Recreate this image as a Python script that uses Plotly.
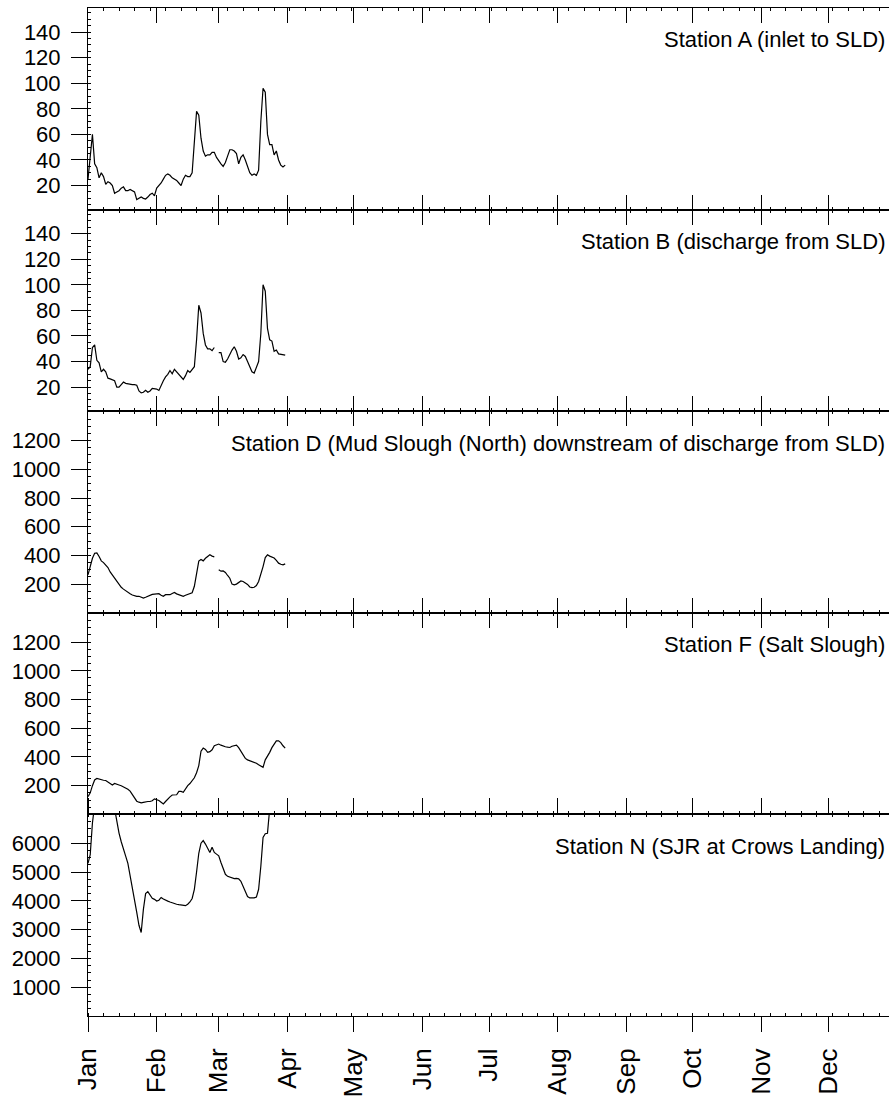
import pandas as pd
import plotly.graph_objects as go
from plotly.subplots import make_subplots

# Daily sampling dates, Jan 1 - Mar 31
dates = pd.date_range("2001-01-01", periods=90, freq="D")

station_a = [25, 45, 60, 37, 34, 26, 30, 27, 21, 23, 22, 20, 14, 15, 16, 18, 19, 16, 16, 17,
             16, 15, 9, 10, 11, 10, 9.5, 11, 13, 14, 12, 18, 20, 22, 25, 28, 29, 28, 26, 25,
             24, 22, 20, 25, 28, 27, 27, 30, 55, 78, 75, 57, 47, 43, 44, 44, 46, 46, 42, 39,
             37, 35, 38, 43, 48, 48, 47, 45, 37, 42, 44, 40, 35, 30, 28, 29, 28, 32, 70, 96,
             93, 60, 52, 52, 44, 47, 40, 36, 34.5, 36]

station_b = [34, 36, 51, 53, 41, 39, 32, 34, 32, 27, 26.5, 26, 25, 20, 20, 22, 24, 23, 22.5, 22.5,
             22, 22, 21.5, 17, 15.5, 16, 17.5, 16, 17, 19, 19, 18.5, 17.4, 22, 25, 28, 30, 33, 30.5, 34,
             32, 30, 28, 26, 29, 33, 31.5, 34, 36, 57, 84, 78, 62, 53, 50, 50, 48.5, 51, None, 47,
             47, 40, 39.5, 42, 46, 49, 51.6, 48, 42, 43, 45.5, 44, 40, 36, 32, 31, 35, 40, 62, 100,
             95, 66, 57, 56, 48, 49, 46, 45.5, 45, 45]

station_d = [265, 320, 380, 415, 418, 392, 362, 350, 335, 315, 285, 262, 240, 218, 198, 178, 165, 152, 145, 132,
             124, 118, 115, 115, 110, 103, 108, 115, 122, 128, 130, 132, 133, 122, 115, 126, 127, 126, 135, 142,
             132, 126, 118, 115, 122, 130, 135, 140, 185, 280, 360, 372, 362, 380, 395, 404, 395, 390, None, 300,
             290, 292, 281, 260, 241, 200, 195, 200, 212, 222, 218, 210, 198, 180, 176, 178, 190, 218, 265, 322,
             385, 404, 395, 390, 382, 365, 346, 338, 334, 341]

station_f = [124, 150, 200, 240, 250, 245, 240, 238, 236, 225, 210, 205, 215, 212, 205, 200, 192, 185, 175, 162,
             140, 110, 92, 85, 80, 84, 88, 90, 90, 95, 108, 103, 97, 85, 73, 90, 108, 122, 135, 137,
             137, 160, 160, 154, 178, 200, 215, 235, 255, 290, 340, 440, 462, 452, 432, 437, 450, 478, 485, 490,
             482, 475, 471, 468, 466, 475, 480, 483, 465, 443, 415, 390, 380, 375, 370, 362, 356, 345, 335, 328,
             380, 405, 432, 465, 490, 512, 512, 500, 478, 462]

station_n = [5300, 5600, 6700, 7600, 8200, 8600, 8800, 8900, 8800, 8500, 8100, 7700, 7200, 6700, 6350, 6050,
             5830, 5550, 5300, 4900, 4450, 4050, 3600, 3150, 2900, 3700, 4250, 4320, 4180, 4090, 4050, 3990,
             4020, 4115, 4060, 4010, 3990, 3960, 3925, 3900, 3880, 3865, 3850, 3840, 3830, 3880, 3960, 4080,
             4400, 5000, 5650, 6000, 6090, 5970, 5800, 5680, 5860, 5680, 5620, 5560, 5330, 5100, 4920, 4850,
             4820, 4790, 4770, 4780, 4760, 4680, 4500, 4300, 4150, 4100, 4095, 4100, 4130, 4400, 5200, 6200,
             6330, 6345, 7200, 7800, 8300, 8600, 8800, 9000, 9100, 9200]

station_names = [
    "Station A (inlet to SLD)",
    "Station B (discharge from SLD)",
    "Station D (Mud Slough (North) downstream of discharge from SLD)",
    "Station F (Salt Slough)",
    "Station N (SJR at Crows Landing)",
]
series = [station_a, station_b, station_d, station_f, station_n]

y_ranges = [[1.2, 158.8], [1.2, 158.8], [0, 1405], [0, 1404], [0, 7000]]
y_ticks = [
    [20, 40, 60, 80, 100, 120, 140],
    [20, 40, 60, 80, 100, 120, 140],
    [200, 400, 600, 800, 1000, 1200],
    [200, 400, 600, 800, 1000, 1200],
    [1000, 2000, 3000, 4000, 5000, 6000],
]
y_minor = [5, 5, 50, 50, 250]

month_ticks = pd.date_range("2001-01-01", periods=12, freq="MS")
month_labels = ["Jan", "Feb", "Mar", "Apr", "May", "Jun",
                "Jul", "Aug", "Sep", "Oct", "Nov", "Dec"]
x_range = ["2001-01-01", "2001-12-28 12:00"]

FONT = "Liberation Sans, Arial, sans-serif"
WEEK_MS = 7 * 86400000

fig = make_subplots(rows=5, cols=1, shared_xaxes=True, vertical_spacing=0)

for i, vals in enumerate(series):
    fig.add_trace(
        go.Scatter(x=dates, y=vals, mode="lines", connectgaps=False,
                   line=dict(color="black", width=1.2), showlegend=False,
                   hoverinfo="skip"),
        row=i + 1, col=1,
    )

for i in range(5):
    r = i + 1
    bottom = r == 5
    fig.update_xaxes(
        row=r, col=1, range=x_range, showgrid=False, zeroline=False,
        showline=True, linecolor="black", linewidth=1, mirror="ticks",
        ticks="outside" if bottom else "inside", ticklen=15, tickwidth=1, tickcolor="black",
        tickmode="array", tickvals=month_ticks, ticktext=month_labels,
        showticklabels=bottom, tickangle=-90, ticklabelstandoff=6,
        tickfont=dict(family=FONT, size=26, color="black"),
        minor=dict(ticks="inside", ticklen=3, tickcolor="black",
                   tickmode="linear", tick0="2001-01-01", dtick=WEEK_MS, showgrid=False),
    )
    fig.update_yaxes(
        row=r, col=1, range=y_ranges[i], showgrid=False, zeroline=False,
        showline=True, linecolor="black", linewidth=1, mirror=False,
        ticks="outside", ticklen=16, tickwidth=1, tickcolor="black",
        tickmode="array", tickvals=y_ticks[i], ticklabelstandoff=6,
        tickfont=dict(family=FONT, size=22, color="black"),
        minor=dict(ticks="inside", ticklen=3, tickcolor="black",
                   tickmode="linear", tick0=0, dtick=y_minor[i], showgrid=False),
    )
    fig.add_annotation(
        text=station_names[i], xref="x domain", yref="y domain" if r == 1 else f"y{r} domain",
        x=0.997, y=1 - 32 / 201.6, xanchor="right", yanchor="middle", showarrow=False,
        font=dict(family=FONT, size=22, color="black"),
    )

# Inward-pointing month ticks along the bottom panel (crossing ticks)
fig.add_trace(go.Scatter(x=[], y=[], xaxis="x6", yaxis="y5", showlegend=False))
fig.update_layout(
    xaxis6=dict(
        overlaying="x5", anchor="y5", side="bottom", range=x_range,
        showgrid=False, zeroline=False, showline=True, linecolor="black", mirror="ticks",
        ticks="inside", ticklen=15, tickwidth=1, tickcolor="black",
        tickmode="array", tickvals=month_ticks, showticklabels=False,
    )
)

fig.update_layout(
    width=889, height=1097,
    margin=dict(l=88, r=0, t=8, b=81),
    paper_bgcolor="white", plot_bgcolor="white",
    font=dict(family=FONT, color="black"),
)

fig.write_html("out.html")
